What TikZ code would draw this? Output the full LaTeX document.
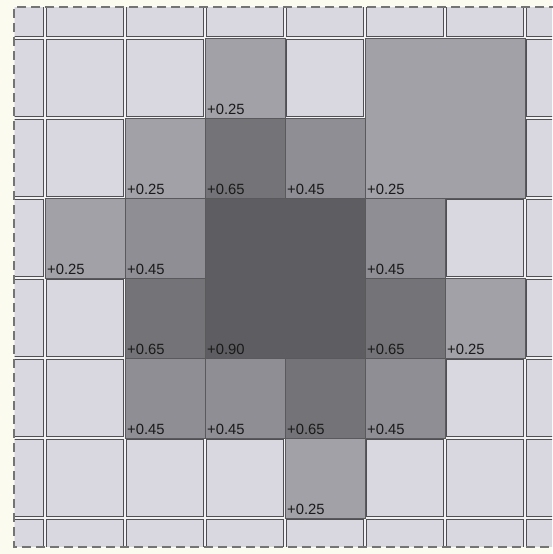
\documentclass[tikz,border=0pt]{standalone}
\usepackage{fontspec}
\setmainfont{Liberation Sans}
\definecolor{cream}{HTML}{FCFBEF}
\definecolor{gapc}{HTML}{F2F1F3}
\definecolor{lightc}{HTML}{D9D7DF}
\definecolor{cellborder}{HTML}{505052}
\definecolor{shadeborder}{HTML}{5A5A5C}
\definecolor{ctf}{HTML}{A2A1A7}
\definecolor{cff}{HTML}{8E8E94}
\definecolor{csf}{HTML}{747478}
\definecolor{cnz}{HTML}{5E5E62}
\definecolor{labeltext}{HTML}{1A1A1A}
\definecolor{dashc}{HTML}{747474}
\begin{document}
\begin{tikzpicture}[x=1pt,y=-1pt,
  lightcell/.style={fill=lightc, draw=cellborder, line width=1pt},
  shadecell/.style={draw=shadeborder, line width=0.9pt},
  lbl/.style={anchor=base west, inner sep=0pt, font=\fontsize{14.8}{15}\selectfont, text=labeltext},
  frame/.style={draw=dashc, line width=1.4pt, dash pattern=on 9pt off 5pt}]
\useasboundingbox (0,0) rectangle (552,554);
\fill[cream] (0,0) rectangle (552,554);
\begin{scope}
  \clip (14.5,7.5) rectangle (552,546.5);
  \fill[gapc] (14,7) rectangle (552,547);
  \foreach \i in {-1,...,6} {
    \foreach \j in {-1,...,6} {
      \draw[lightcell] ({45+80*\i+1.5},{38+80*\j+1.5}) rectangle ({45+80*(\i+1)-1.5},{38+80*(\j+1)-1.5});
    }
  }
\end{scope}
\foreach \c/\r/\w/\h/\col/\t [count=\n] in {
  3/1/1/1/ctf/+0.25,
  5/1/2/2/ctf/+0.25,
  2/2/1/1/ctf/+0.25,
  3/2/1/1/csf/+0.65,
  4/2/1/1/cff/+0.45,
  1/3/1/1/ctf/+0.25,
  2/3/1/1/cff/+0.45,
  3/3/2/2/cnz/+0.90,
  5/3/1/1/cff/+0.45,
  2/4/1/1/csf/+0.65,
  5/4/1/1/csf/+0.65,
  6/4/1/1/ctf/+0.25,
  2/5/1/1/cff/+0.45,
  3/5/1/1/cff/+0.45,
  4/5/1/1/csf/+0.65,
  5/5/1/1/cff/+0.45,
  4/6/1/1/ctf/+0.25} {
  \draw[shadecell, fill=\col] ({45+80*(\c-1)},{38+80*(\r-1)}) rectangle ({45+80*(\c-1+\w)},{38+80*(\r-1+\h)});
  \node[lbl] (lab\n) at ({45+80*(\c-1)+2},{38+80*(\r-1+\h)-4}) {\t};
}
\draw[frame] (600,7) -- (14,7) -- (14,547) -- (600,547);
\end{tikzpicture}
\end{document}
